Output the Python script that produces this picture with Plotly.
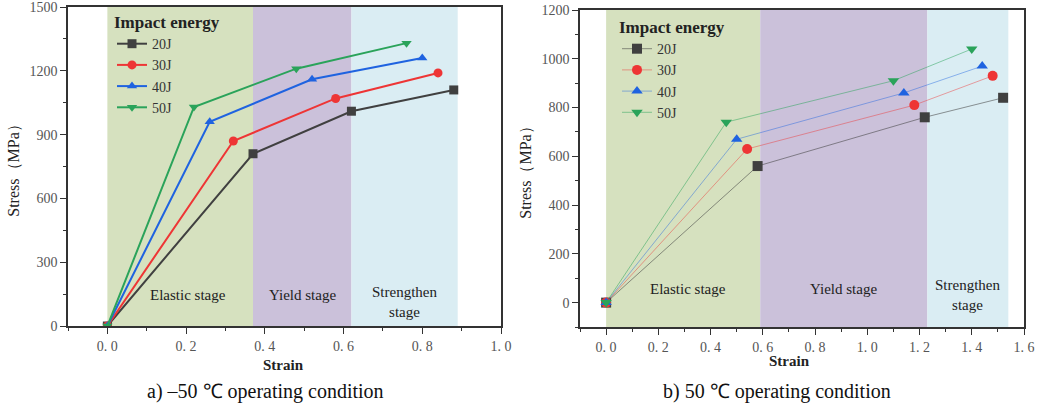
import plotly.graph_objects as go

# ---------------- data ----------------
energies = ["20J", "30J", "40J", "50J"]

# a) -50 °C
strain_a = {
    "20J": [0.0, 0.37, 0.62, 0.88],
    "30J": [0.0, 0.32, 0.58, 0.84],
    "40J": [0.0, 0.26, 0.52, 0.80],
    "50J": [0.0, 0.22, 0.48, 0.76],
}
stress_a = {
    "20J": [0, 810, 1010, 1110],
    "30J": [0, 870, 1070, 1190],
    "40J": [0, 960, 1160, 1260],
    "50J": [0, 1030, 1210, 1330],
}
stages_a = [0.0, 0.37, 0.62, 0.89]

# b) 50 °C
strain_b = {
    "20J": [0.0, 0.58, 1.22, 1.52],
    "30J": [0.0, 0.54, 1.18, 1.48],
    "40J": [0.0, 0.50, 1.14, 1.44],
    "50J": [0.0, 0.46, 1.10, 1.40],
}
stress_b = {
    "20J": [0, 560, 760, 840],
    "30J": [0, 630, 810, 930],
    "40J": [0, 670, 860, 970],
    "50J": [0, 740, 910, 1040],
}
stages_b = [0.0, 0.59, 1.23, 1.54]

stage_names = ["Elastic stage", "Yield stage", "Strengthen<br>stage"]

xticks_a = [0.0, 0.2, 0.4, 0.6, 0.8, 1.0]
xticks_b = [0.0, 0.2, 0.4, 0.6, 0.8, 1.0, 1.2, 1.4, 1.6]
yticks_a = [0, 300, 600, 900, 1200, 1500]
yticks_b = [0, 200, 400, 600, 800, 1000, 1200]

# ---------------- style ----------------
colors = {"20J": "#404040", "30J": "#ee3535", "40J": "#1f63e0", "50J": "#2aa35a"}
faded = {"20J": "rgba(64,64,64,0.55)", "30J": "rgba(238,53,53,0.45)",
         "40J": "rgba(31,99,224,0.45)", "50J": "rgba(42,163,90,0.5)"}
symbols = {"20J": "square", "30J": "circle", "40J": "triangle-up", "50J": "triangle-down"}
stage_colors = ["#d6e1bf", "#cbc1da", "#daedf3"]
SERIF = "Liberation Serif, Times New Roman, serif"

W, H = 1047, 407
def px(x): return x / W
def py(y): return 1 - y / H

fig = go.Figure()

for e in energies:
    fig.add_trace(go.Scatter(
        x=strain_a[e], y=stress_a[e], name=e, mode="lines+markers",
        line=dict(color=colors[e], width=2),
        marker=dict(symbol=symbols[e], size=9, color=colors[e]),
        xaxis="x", yaxis="y", legend="legend"))
for e in energies:
    fig.add_trace(go.Scatter(
        x=strain_b[e], y=stress_b[e], name=e, mode="lines+markers",
        line=dict(color=faded[e], width=1),
        marker=dict(symbol=symbols[e], size=10, color=colors[e]),
        xaxis="x2", yaxis="y2", legend="legend2"))

shapes = []
annotations = []
for xr, yr, stg in [("x", "y", stages_a), ("x2", "y2", stages_b)]:
    for i in range(3):
        shapes.append(dict(type="rect", xref=xr, yref=yr + " domain",
                           x0=stg[i], x1=stg[i + 1], y0=0, y1=1,
                           fillcolor=stage_colors[i], line=dict(width=0), layer="below"))

def stage_label(xr, yr, x, y, text):
    annotations.append(dict(xref=xr, yref=yr, x=x, y=y, text=text, showarrow=False,
                            xanchor="center", yanchor="middle",
                            font=dict(family=SERIF, size=15, color="#222"),
                            align="center"))

stage_label("x", "y", (stages_a[0] + stages_a[1]) / 2 + 0.02, 145, stage_names[0])
stage_label("x", "y", (stages_a[1] + stages_a[2]) / 2, 145, stage_names[1])
stage_label("x", "y", (stages_a[2] + stages_a[3]) / 2, 115, stage_names[2])
stage_label("x2", "y2", (stages_b[0] + stages_b[1]) / 2 + 0.02, 55, stage_names[0])
stage_label("x2", "y2", (stages_b[1] + stages_b[2]) / 2, 55, stage_names[1])
stage_label("x2", "y2", (stages_b[2] + stages_b[3]) / 2, 30, stage_names[2])

def paper_text(x, y, text, size, color="#111"):
    annotations.append(dict(xref="paper", yref="paper", x=px(x), y=py(y), xanchor="center", yanchor="middle",
                            text=text, showarrow=False, font=dict(family=SERIF, size=size, color=color)))

# x-axis titles
paper_text(283, 365, "<b>Strain</b>", 15, "#222")
paper_text(789, 361, "<b>Strain</b>", 15, "#222")
# captions
paper_text(265, 391, "a) –50 ℃ operating condition", 20)
paper_text(777, 391, "b) 50 ℃ operating condition", 20)

def fmt(v):
    s = f"{v:.1f}"
    return s.replace(".", ". ")

axis_common = dict(showline=True, linecolor="#333", linewidth=1.5, mirror=True,
                   ticks="outside", ticklen=6, tickwidth=1.2, tickcolor="#333",
                   showgrid=False, zeroline=False, automargin=False,
                   ticklabeloverflow="allow",
                   tickfont=dict(family=SERIF, size=14, color="#555"))

legend_common = dict(xanchor="left", yanchor="top", bgcolor="rgba(0,0,0,0)",
                     font=dict(family=SERIF, size=14, color="#333"),
                     title=dict(text="<b>Impact energy</b>", font=dict(family=SERIF, size=17, color="#222")),
                     tracegroupgap=0)

fig.update_layout(
    width=W, height=H, margin=dict(l=0, r=0, t=0, b=0, autoexpand=False),
    paper_bgcolor="white", plot_bgcolor="white",
    shapes=shapes, annotations=annotations,
    xaxis=dict(domain=[px(68), px(501)], range=[-0.1, 1.0], anchor="y",
               tickvals=xticks_a, ticktext=[fmt(v) for v in xticks_a],
               minor=dict(ticks="outside", ticklen=3, dtick=0.1, tick0=0, tickcolor="#333"),
               **axis_common),
    yaxis=dict(domain=[py(326), py(7)], range=[0, 1500], anchor="x",
               tickvals=yticks_a,
               minor=dict(ticks="outside", ticklen=3, dtick=150, tick0=0, tickcolor="#333"),
               title=dict(text="Stress（MPa）", font=dict(family=SERIF, size=16, color="#222"), standoff=6),
               **axis_common),
    xaxis2=dict(domain=[px(580), px(1024)], range=[-0.1, 1.6], anchor="y2",
                tickvals=xticks_b, ticktext=[fmt(v) for v in xticks_b],
                minor=dict(ticks="outside", ticklen=3, dtick=0.1, tick0=0, tickcolor="#333"),
                **axis_common),
    yaxis2=dict(domain=[py(327), py(10)], range=[-100, 1200], anchor="x2",
                tickvals=yticks_b,
                minor=dict(ticks="outside", ticklen=3, dtick=100, tick0=0, tickcolor="#333"),
                title=dict(text="Stress（MPa）", font=dict(family=SERIF, size=16, color="#222"), standoff=6),
                **axis_common),
    legend=dict(x=px(112), y=py(6), **legend_common),
    legend2=dict(x=px(617), y=py(11), **legend_common),
    showlegend=True,
)

fig.write_html("out.html")
